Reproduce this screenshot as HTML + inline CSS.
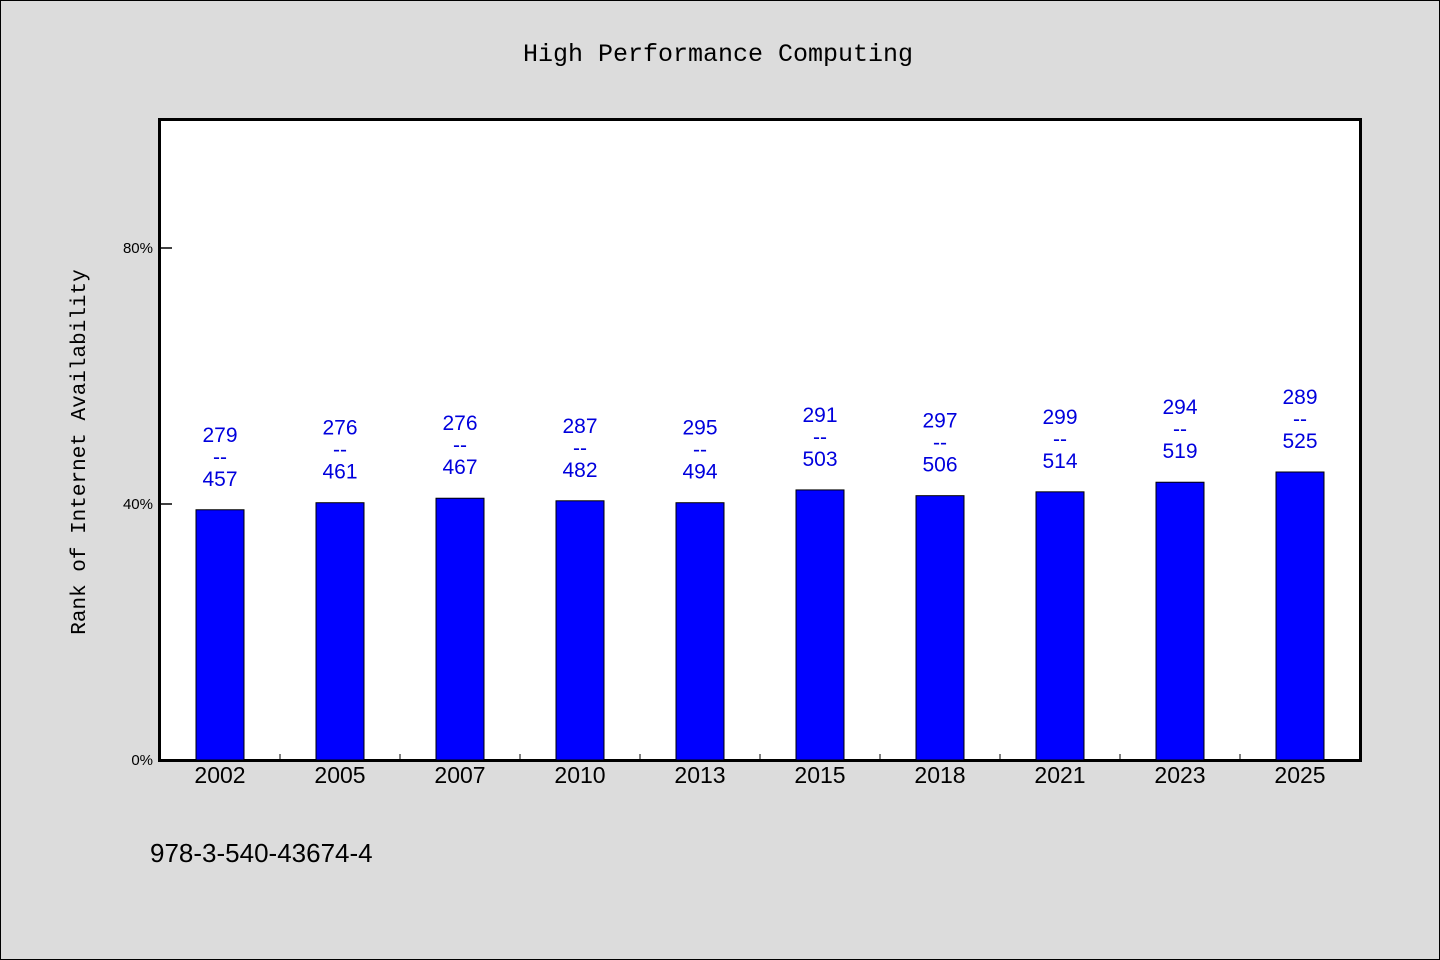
<!DOCTYPE html>
<html><head><meta charset="utf-8"><style>
body{margin:0;background:#dcdcdc;}
svg{display:block;font-family:"Liberation Sans","WenQuanYi Zen Hei",sans-serif;}
</style></head><body>
<svg id="c" width="1440" height="960">
<rect x="0.5" y="0.5" width="1439" height="959" fill="#dcdcdc" stroke="#000"/>
<text x="718" y="61" text-anchor="middle" font-size="25" font-family="'Liberation Mono',monospace">High Performance Computing</text>
<rect x="159.5" y="119.5" width="1201" height="641" fill="#fff" stroke="#000" stroke-width="3"/>
<text transform="translate(85,452) rotate(-90)" text-anchor="middle" font-size="21" font-family="'Liberation Mono',monospace">Rank of Internet Availability</text>
<text x="150" y="862" font-size="26">978-3-540-43674-4</text>
<g id="g"></g>
</svg>
<script>
const categories=["2002","2005","2007","2010","2013","2015","2018","2021","2023","2025"];
const values=[39.1,40.2,40.9,40.5,40.2,42.2,41.3,41.9,43.4,45.0];
const topLabels=["279","276","276","287","295","291","297","299","294","289"];
const bottomLabels=["457","461","467","482","494","503","506","514","519","525"];
const yTicks=[0,40,80];
const NS="http://www.w3.org/2000/svg";
const g=document.getElementById('g');
const x0=160,bandW=120,yBase=760,pxPer=6.4;
const xs=i=>x0+bandW*i+bandW/2;
const ys=v=>yBase-v*pxPer;
function mk(t,a){const e=document.createElementNS(NS,t);for(const k in a)e.setAttribute(k,a[k]);g.appendChild(e);return e;}
yTicks.forEach(v=>{
 const l=mk('line',{x1:160,x2:172,y1:ys(v),y2:ys(v),stroke:'#000','stroke-width':1.5});
 
 
 const t=mk('text',{x:153,y:ys(v)+5,'text-anchor':'end','font-size':15});
 t.textContent=v+'%';
 
 
});
categories.forEach((c,i)=>{
 if(i>0){const tk=mk('line',{x1:x0+bandW*i,x2:x0+bandW*i,y1:754,y2:760,stroke:'#000','stroke-width':1});
 
 }
 const cx=xs(i),top=ys(values[i]);
 const b=mk('rect',{x:cx-24,y:top,width:48,height:yBase-top,fill:'#0000ff',stroke:'#000','stroke-width':1});
 
 
 const xl=mk('text',{x:cx,y:783,'text-anchor':'middle','font-size':23});
 xl.textContent=c;
 
 
 [[topLabels[i],top-68],['--',top-46],[bottomLabels[i],top-24]].forEach(([s,y],k)=>{
  const t=mk('text',{x:cx,y:y,'text-anchor':'middle','font-size':21,fill:'#0000dd'});
  t.textContent=s;
  
  
 });
});
</script>
</body></html>
